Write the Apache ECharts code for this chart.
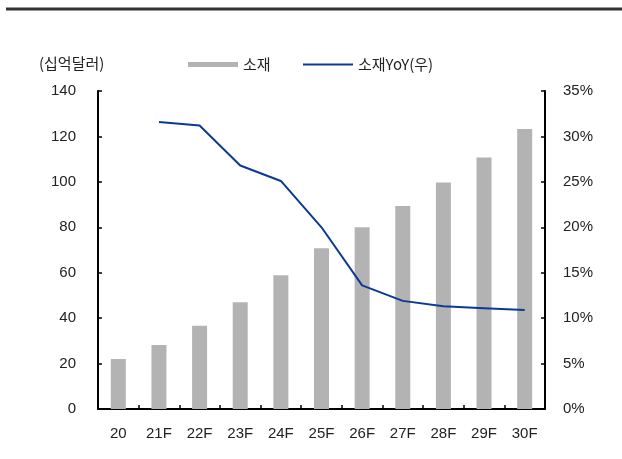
<!DOCTYPE html>
<html>
<head>
<meta charset="utf-8">
<script src="https://cdn.jsdelivr.net/npm/echarts@6/dist/echarts.min.js"></script>
<style>
  html, body { margin: 0; padding: 0; background: #fff; }
  #chart { width: 622px; height: 459px; }
</style>
</head>
<body>
<div id="chart"></div>
<script>
// Categories (years, F = forecast)
const categories = ['20', '21F', '22F', '23F', '24F', '25F', '26F', '27F', '28F', '29F', '30F'];
// Materials market size, billion USD
const materialValues = [22, 28.2, 36.7, 47, 58.9, 70.8, 80, 89.4, 99.7, 110.7, 123.3];
// Year-over-year growth, %
const yoyValues = [null, 31.6, 31.2, 26.8, 25.1, 20.0, 13.6, 11.9, 11.3, 11.1, 10.9];
// Axis ticks
const leftTicks = { min: 0, max: 140, interval: 20 };
const rightTicks = { min: 0, max: 35, interval: 5 };

const numFont = '"Liberation Sans", Arial, sans-serif';
const krFont = '"Noto Sans CJK KR", "Liberation Sans", sans-serif';
const axisColor = '#000';
const textColor = '#222';
const lineColor = '#0b3a94';

const chart = echarts.init(document.getElementById('chart'), null, { renderer: 'canvas' });

const legendText = { fontFamily: krFont, fontSize: 15, color: textColor };

chart.setOption({
  animation: false,
  backgroundColor: '#fff',
  title: {
    text: '(십억달러)',
    left: 34,
    top: 51,
    textStyle: { fontFamily: krFont, fontSize: 15, fontWeight: 'normal', color: textColor }
  },
  graphic: [{
    type: 'line',
    shape: { x1: 6, y1: 9, x2: 622, y2: 9 },
    style: { stroke: '#333', lineWidth: 3 }
  }],
  legend: [{
    left: 183,
    top: 52,
    itemWidth: 50,
    itemHeight: 5,
    textStyle: legendText,
    data: [{ name: '소재', icon: 'rect' }]
  }, {
    left: 298,
    top: 52,
    itemWidth: 50,
    itemHeight: 2,
    itemGap: 6,
    textStyle: legendText,
    data: [{ name: '소재YoY(우)', icon: 'rect' }]
  }],
  grid: { left: 98, right: 77, top: 91, bottom: 50 },
  xAxis: {
    type: 'category',
    data: categories,
    boundaryGap: true,
    axisLine: { show: true, lineStyle: { color: axisColor, width: 2 } },
    axisTick: { show: true, inside: true, length: 4, lineStyle: { color: axisColor, width: 1.5 } },
    axisLabel: { margin: 17, fontFamily: numFont, fontSize: 15, color: textColor },
    splitLine: { show: false }
  },
  yAxis: [{
    type: 'value',
    min: leftTicks.min,
    max: leftTicks.max,
    interval: leftTicks.interval,
    axisLine: { show: true, lineStyle: { color: axisColor, width: 2 } },
    axisTick: { show: true, inside: true, length: 4, lineStyle: { color: axisColor, width: 1.5 } },
    axisLabel: { margin: 22, fontFamily: numFont, fontSize: 15, color: textColor },
    splitLine: { show: false }
  }, {
    type: 'value',
    min: rightTicks.min,
    max: rightTicks.max,
    interval: rightTicks.interval,
    position: 'right',
    axisLine: { show: true, lineStyle: { color: axisColor, width: 2 } },
    axisTick: { show: true, inside: true, length: 4, lineStyle: { color: axisColor, width: 1.5 } },
    axisLabel: { margin: 18, fontFamily: numFont, fontSize: 15, color: textColor, formatter: '{value}%' },
    splitLine: { show: false }
  }],
  series: [{
    name: '소재',
    type: 'bar',
    yAxisIndex: 0,
    data: materialValues,
    barWidth: 15,
    itemStyle: { color: '#b3b3b3' }
  }, {
    name: '소재YoY(우)',
    type: 'line',
    yAxisIndex: 1,
    data: yoyValues,
    symbol: 'none',
    lineStyle: { color: lineColor, width: 2 },
    itemStyle: { color: lineColor }
  }]
});
</script>
</body>
</html>
